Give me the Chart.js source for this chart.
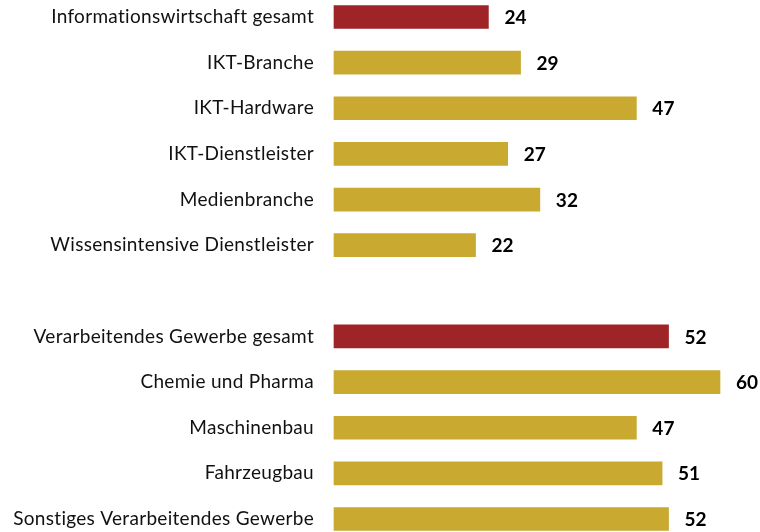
<!DOCTYPE html>
<html>
<head>
<meta charset="utf-8">
<script src="https://cdn.jsdelivr.net/npm/chart.js@4/dist/chart.umd.min.js"></script>
<style>
  html, body { margin: 0; padding: 0; background: #fff; }
  #wrap { width: 760px; height: 532px; position: relative; }
</style>
</head>
<body>
<div id="wrap"><canvas id="c" width="760" height="532"></canvas></div>
<script>
// Sectors (an empty entry separates the two groups)
const categories = [
  'Informationswirtschaft gesamt',
  'IKT-Branche',
  'IKT-Hardware',
  'IKT-Dienstleister',
  'Medienbranche',
  'Wissensintensive Dienstleister',
  '',
  'Verarbeitendes Gewerbe gesamt',
  'Chemie und Pharma',
  'Maschinenbau',
  'Fahrzeugbau',
  'Sonstiges Verarbeitendes Gewerbe'
];
const values = [24, 29, 47, 27, 32, 22, null, 52, 60, 47, 51, 52];
// Group totals are highlighted
const totals = ['Informationswirtschaft gesamt', 'Verarbeitendes Gewerbe gesamt'];

const RED = '#9E2427';
const GOLD = '#C9A930';

// A little letter spacing keeps Lato from forming "ti" ligatures
const spacing = {
  id: 'spacing',
  beforeDraw(chart) { chart.ctx.letterSpacing = '0.3px'; }
};

const valueLabels = {
  id: 'valueLabels',
  afterDatasetsDraw(chart) {
    const ctx = chart.ctx;
    const meta = chart.getDatasetMeta(0);
    ctx.save();
    ctx.letterSpacing = '0px';
    ctx.font = 'bold 19px Lato, "Open Sans", sans-serif';
    ctx.fillStyle = '#000';
    ctx.textAlign = 'left';
    ctx.textBaseline = 'middle';
    meta.data.forEach((bar, i) => {
      const v = chart.data.datasets[0].data[i];
      if (v === null || v === undefined) return;
      ctx.fillText(String(v), bar.x + 16, bar.y + 1);
    });
    ctx.restore();
  }
};

new Chart(document.getElementById('c'), {
  type: 'bar',
  data: {
    labels: categories,
    datasets: [{
      data: values,
      backgroundColor: categories.map(c => totals.includes(c) ? RED : GOLD),
      borderWidth: 0,
      barThickness: 23,
      clip: false
    }]
  },
  options: {
    indexAxis: 'y',
    responsive: false,
    animation: false,
    devicePixelRatio: 1,
    layout: { padding: { top: 17, bottom: 13, left: 0, right: 40 } },
    plugins: { legend: { display: false }, tooltip: { enabled: false } },
    scales: {
      x: {
        display: false,
        min: 0,
        max: 60
      },
      y: {
        offset: false,
        grid: { display: false, drawTicks: false },
        border: { display: false },
        ticks: {
          padding: 20,
          color: '#111',
          font: { family: 'Lato, "Open Sans", sans-serif', size: 19 }
        },
        afterFit(scale) {
          scale.width = 334;
          scale.paddingTop = 0;
          scale.paddingBottom = 0;
        }
      }
    }
  },
  plugins: [spacing, valueLabels]
});
</script>
</body>
</html>
